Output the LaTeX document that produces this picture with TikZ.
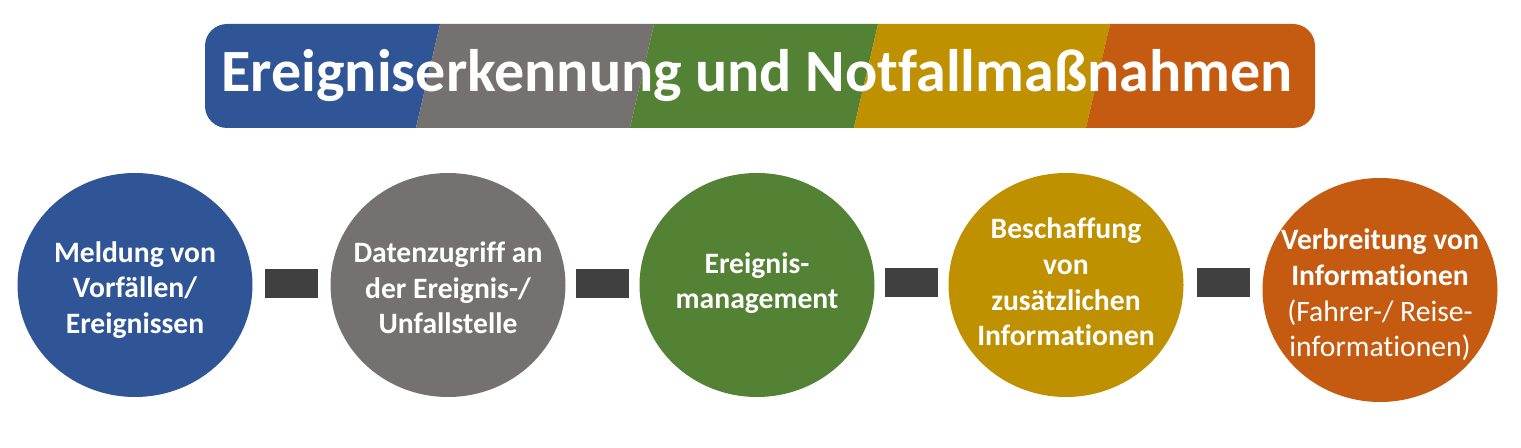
\documentclass[tikz,border=0pt]{standalone}
\usepackage{fontspec}
\setmainfont{Carlito}[Ligatures={NoCommon,NoContextual},Contextuals=NoAlternate]
\usetikzlibrary{positioning,calc,shapes.geometric}
\definecolor{stepblue}{HTML}{2F5597}
\definecolor{stepgray}{HTML}{767171}
\definecolor{stepgreen}{HTML}{548235}
\definecolor{stepgold}{HTML}{BF9000}
\definecolor{steporange}{HTML}{C55A11}
\definecolor{linkgray}{HTML}{404040}

\begin{document}
\begin{tikzpicture}[x=0.5pt,y=-0.5pt,
  stage/.style={ellipse, fill=#1, minimum width=117.5pt, minimum height=112pt, inner sep=0pt},
  stagetext/.style={text=white, align=center, inner sep=0pt, font=\bfseries\fontsize{14.8}{17.8}\selectfont},
  link/.style={fill=linkgray, minimum width=26.5pt, minimum height=14.5pt, inner sep=0pt}]
\useasboundingbox (0,0) rectangle (1521,448);

% title banner
\begin{scope}
\clip[rounded corners=11pt] (205,24) rectangle (1315,128);
\fill[stepblue] (200,20) -- (441,20) -- (415,132) -- (200,132) -- cycle;
\fill[stepgray] (441,20) -- (655,20) -- (629,132) -- (415,132) -- cycle;
\fill[stepgreen] (655,20) -- (879,20) -- (853,132) -- (629,132) -- cycle;
\fill[stepgold] (879,20) -- (1111,20) -- (1085,132) -- (853,132) -- cycle;
\fill[steporange] (1111,20) -- (1320,20) -- (1320,132) -- (1085,132) -- cycle;
\end{scope}
\node[text=white, font=\bfseries\fontsize{30}{36}\selectfont] (title) at (757,76) {Ereigniserkennung und Notfallmaßnahmen};

% steps
\node[stage=stepblue] (meldung) at (135,285) {};
\node[stage=stepgray] (zugriff) at (448,285) {};
\node[stage=stepgreen] (management) at (757,285) {};
\node[stage=stepgold] (beschaffung) at (1066,285) {};
\node[stage=steporange] (verbreitung) at (1380,290) {};

\node[stagetext] (meldungtext) at ([yshift=-2.5pt]meldung.center) {Meldung von\\Vorfällen/\\Ereignissen};
\node[stagetext] (zugrifftext) at ([yshift=-1.5pt]zugriff.center) {Datenzugriff an\\der Ereignis-/\\Unfallstelle};
\node[stagetext] (managementtext) at ([yshift=1pt]management.center) {Ereignis-\\management};
\node[stagetext] (beschaffungtext) at ([yshift=1.5pt]beschaffung.center) {Beschaffung\\von\\zusätzlichen\\Informationen};
\node[stagetext] (verbreitungtext) at ([yshift=-2.5pt]verbreitung.center) {Verbreitung von\\Informationen\\{\mdseries (Fahrer-/ Reise-}\\{\mdseries informationen)}};

% links
\node[link] (l1) at ($(meldung)!0.5!(zugriff)+(0,-1)$) {};
\node[link] (l2) at ($(zugriff)!0.5!(management)+(0,-1)$) {};
\node[link] (l3) at ($(management)!0.5!(beschaffung)+(0,-2)$) {};
\node[link] (l4) at ($(beschaffung)!0.5!(verbreitung)+(0,-5)$) {};
\end{tikzpicture}
\end{document}
